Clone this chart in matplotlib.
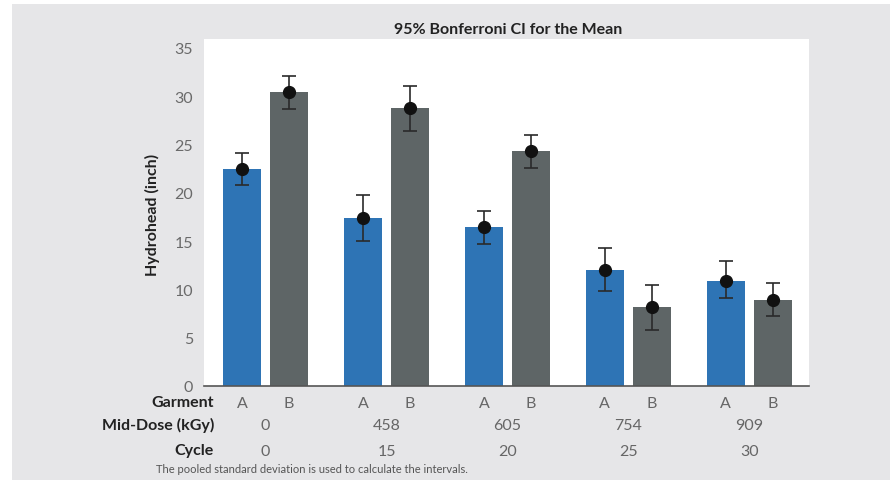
import numpy as np
import matplotlib
matplotlib.use('Agg')
import matplotlib.pyplot as plt
from matplotlib.patches import Rectangle

# Medias e intervalos de confianza (Bonferroni 95%)
garment = ['A', 'B']
mid_dose = ['0', '458', '605', '754', '909']
cycle = ['0', '15', '20', '25', '30']

mean_a = [22.5, 17.4, 16.4, 12.0, 10.9]
low_a = [20.8, 15.0, 14.7, 9.8, 9.1]
up_a = [24.15, 19.8, 18.1, 14.3, 12.9]

mean_b = [30.4, 28.8, 24.3, 8.2, 8.9]
low_b = [28.7, 26.4, 22.6, 5.8, 7.25]
up_b = [32.05, 31.05, 26.0, 10.4, 10.65]

plt.rcParams['font.family'] = ['Lato', 'DejaVu Sans']

azul = '#2e74b5'
gris = '#5e6566'
fondo = '#e6e6e8'

fig = plt.figure(figsize=(8.9, 4.81), dpi=100)
fig.patch.set_facecolor('white')
fig.patches.append(Rectangle((12 / 890, 0), 1, 1 - 5 / 481, transform=fig.transFigure,
                             facecolor=fondo, edgecolor='none', zorder=-10))

ax = fig.add_axes([204 / 890, 1 - 387 / 481, 605 / 890, 347 / 481])
ax.set_facecolor('white')

paso = 2.574
xa = np.arange(5) * paso
xb = xa + 1

ax.bar(xa, mean_a, width=0.82, color=azul, zorder=2)
ax.bar(xb, mean_b, width=0.82, color=gris, zorder=2)

for x, m, lo, hi in [(xa, mean_a, low_a, up_a), (xb, mean_b, low_b, up_b)]:
    m = np.array(m)
    err = [m - np.array(lo), np.array(hi) - m]
    ax.errorbar(x, m, yerr=err, fmt='o', color='#111111', ecolor='#2a2a2a',
                elinewidth=1.2, capsize=5, capthick=1.2, markersize=8.5, zorder=3)

ax.set_ylim(0, 35.9)
ax.set_xlim(-0.81, 4 * paso + 1 + 0.77)
ax.set_yticks(range(0, 36, 5))
ax.tick_params(axis='y', length=0, labelsize=11.5, labelcolor='#6a6a6a', pad=8)
for s in ['top', 'right', 'left']:
    ax.spines[s].set_visible(False)
ax.spines['bottom'].set_color('#555555')
ax.spines['bottom'].set_linewidth(1.2)

# etiquetas del eje x en tres filas
pos = np.concatenate([xa, xb])
ax.set_xticks(pos, ['A'] * 5 + ['B'] * 5)
ax.tick_params(axis='x', length=0, labelsize=11.5, labelcolor='#666666', pad=7)

trans = ax.get_xaxis_transform()
centro = xa + 0.5
for i in range(5):
    ax.text(centro[i], -0.111, mid_dose[i], transform=trans, ha='center', va='center',
            fontsize=11.5, color='#666666')
    ax.text(centro[i], -0.188, cycle[i], transform=trans, ha='center', va='center',
            fontsize=11.5, color='#666666')

fig.text(214 / 890, 1 - 403 / 481, 'Garment', ha='right', va='center',
         fontsize=11.5, fontweight='bold', color='#222222')
fig.text(214 / 890, 1 - 425 / 481, 'Mid-Dose (kGy)', ha='right', va='center',
         fontsize=11.5, fontweight='bold', color='#222222')
fig.text(214 / 890, 1 - 451 / 481, 'Cycle', ha='right', va='center',
         fontsize=11.5, fontweight='bold', color='#222222')

fig.text(156 / 890, 1 - 470 / 481, 'The pooled standard deviation is used to calculate the intervals.',
         ha='left', va='center', fontsize=8, color='#555555')

fig.text(152 / 890, 1 - 215 / 481, 'Hydrohead (inch)', rotation=90, ha='center', va='center',
         fontsize=11.5, fontweight='bold', color='#222222')

fig.text(508 / 890, 1 - 30 / 481, '95% Bonferroni CI for the Mean', ha='center', va='center',
         fontsize=11.5, fontweight='bold', color='#222222')

plt.savefig('out.png', dpi=100)
